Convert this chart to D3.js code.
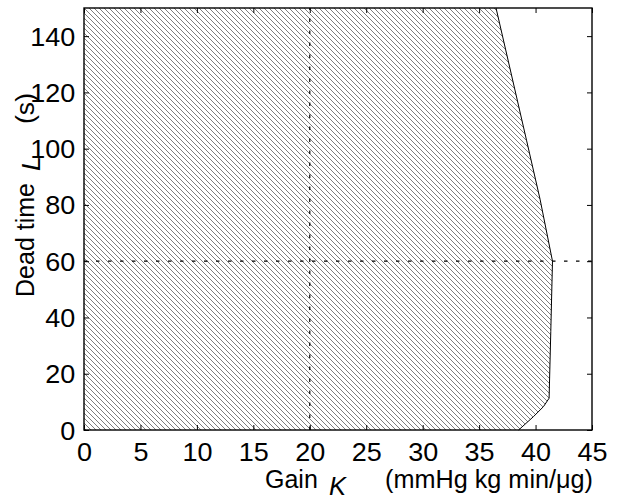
<!DOCTYPE html>
<html>
<head>
<meta charset="utf-8">
<script src="https://cdn.jsdelivr.net/npm/d3@7"></script>
<style>
  html, body { margin: 0; padding: 0; background: #fff; }
  svg { display: block; }
  text { font-family: "Liberation Sans", Arial, Helvetica, sans-serif; fill: #000; }
</style>
</head>
<body>
<svg id="chart" width="618" height="499"></svg>
<script>
// ---- data ----
const xTicks = [0, 5, 10, 15, 20, 25, 30, 35, 40, 45];
const yTicks = [0, 20, 40, 60, 80, 100, 120, 140];
// stable-region boundary (gain K, dead time L)
const boundaryK = [36.5, 39.2, 40.4, 41.5, 41.35, 41.2, 40.7, 39.8, 38.5];
const boundaryL = [150, 103, 82, 60, 35, 11.3, 8.3, 4.7, 0];
const refK = 20;   // vertical dotted reference
const refL = 60;   // horizontal dotted reference

// ---- layout ----
const svg = d3.select("#chart");
const pLeft = 84, pRight = 592, pTop = 8, pBottom = 430;
const x = d3.scaleLinear().domain([0, 45]).range([pLeft, pRight]);
const y = d3.scaleLinear().domain([0, 150]).range([pBottom, pTop]);
const FS = 25;   // font size
const SX = 1.08; // horizontal stretch of tick glyphs in reference

// hatch pattern
const defs = svg.append("defs");
const pat = defs.append("pattern")
  .attr("id", "hatch").attr("patternUnits", "userSpaceOnUse")
  .attr("x", pLeft).attr("y", pTop)
  .attr("width", 5).attr("height", 5);
pat.append("path")
  .attr("d", "M0,0 L5,5 M-1,4 L1,6 M4,-1 L6,1")
  .attr("stroke", "#666").attr("stroke-width", 0.85).attr("fill", "none");

// region
const pts = [[0, 0], [0, 150]].concat(boundaryK.map((k, i) => [k, boundaryL[i]]));
svg.append("path")
  .attr("d", d3.line().x(d => x(d[0])).y(d => y(d[1]))(pts) + "Z")
  .attr("fill", "url(#hatch)").attr("stroke", "none");

// boundary line
svg.append("path")
  .attr("d", d3.line().x(d => x(d)).y((d, i) => y(boundaryL[i]))(boundaryK))
  .attr("fill", "none").attr("stroke", "#000").attr("stroke-width", 1);

// dotted reference lines
svg.append("line")
  .attr("x1", x(0)).attr("x2", x(45)).attr("y1", y(refL)).attr("y2", y(refL))
  .attr("stroke", "#000").attr("stroke-width", 1.2).attr("stroke-dasharray", "3.5,8.5");
svg.append("line")
  .attr("x1", x(refK)).attr("x2", x(refK)).attr("y1", y(0)).attr("y2", y(150))
  .attr("stroke", "#000").attr("stroke-width", 1.2).attr("stroke-dasharray", "3.5,8.5");

// axes
function styleAxis(g) {
  g.select(".domain").remove();
  g.selectAll(".tick line").attr("stroke", "#000").attr("stroke-width", 1);
}
const gB = svg.append("g").attr("transform", `translate(0,${pBottom})`)
  .call(d3.axisBottom(x).tickValues(xTicks).tickSizeInner(-5).tickSizeOuter(0).tickPadding(13));
styleAxis(gB);
gB.selectAll(".tick text").attr("font-size", FS).attr("font-family", null)
  .attr("transform", `scale(${SX},1)`);

const gL = svg.append("g").attr("transform", `translate(${pLeft},0)`)
  .call(d3.axisLeft(y).tickValues(yTicks).tickSizeInner(-5).tickSizeOuter(0).tickPadding(8));
styleAxis(gL);
gL.selectAll(".tick text").attr("font-size", FS).attr("font-family", null)
  .attr("dy", "0.36em").attr("transform", `scale(${SX},1)`);

const gT = svg.append("g").attr("transform", `translate(0,${pTop})`)
  .call(d3.axisTop(x).tickValues(xTicks).tickSizeInner(-5).tickSizeOuter(0).tickFormat(""));
styleAxis(gT);
const gR = svg.append("g").attr("transform", `translate(${pRight},0)`)
  .call(d3.axisRight(y).tickValues(yTicks).tickSizeInner(-5).tickSizeOuter(0).tickFormat(""));
styleAxis(gR);

// box
svg.append("rect")
  .attr("x", pLeft).attr("y", pTop).attr("width", pRight - pLeft).attr("height", pBottom - pTop)
  .attr("fill", "none").attr("stroke", "#000").attr("stroke-width", 1.4);

// x label
svg.append("text").attr("x", 265).attr("y", 488).attr("font-size", FS).text("Gain");
svg.append("text").attr("x", 329).attr("y", 495).attr("font-size", FS)
  .attr("font-style", "italic").attr("textLength", 17).attr("lengthAdjust", "spacingAndGlyphs").text("K");
svg.append("text").attr("x", 385).attr("y", 488).attr("font-size", FS)
  .attr("textLength", 208).attr("lengthAdjust", "spacingAndGlyphs").text("(mmHg kg min/\u03BCg)");

// y label (rotated)
const yl = svg.append("g").attr("transform", "translate(34,0) rotate(-90)");
yl.append("text").attr("x", -297).attr("y", 0).attr("font-size", FS)
  .attr("textLength", 114).attr("lengthAdjust", "spacingAndGlyphs").text("Dead time");
yl.append("text").attr("x", -171).attr("y", 6).attr("font-size", FS)
  .attr("font-style", "italic").attr("textLength", 15).attr("lengthAdjust", "spacingAndGlyphs").text("L");
yl.append("text").attr("x", -124).attr("y", 0).attr("font-size", FS)
  .attr("textLength", 31).attr("lengthAdjust", "spacingAndGlyphs").text("(s)");
</script>
</body>
</html>
